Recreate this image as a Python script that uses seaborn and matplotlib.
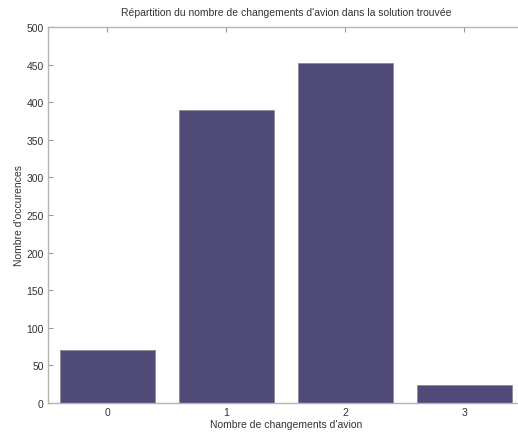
import matplotlib
matplotlib.use("Agg")
import matplotlib.pyplot as plt
import seaborn as sns
import pandas as pd

categories = ["0", "1", "2", "3"]
counts = [71, 390, 452, 24]
yticks = [0, 50, 100, 150, 200, 250, 300, 350, 400, 450, 500]

sns.set_style("white")
plt.rcParams['font.family'] = ['Liberation Sans', 'DejaVu Sans']

df = pd.DataFrame({"changements": categories, "occurences": counts})

fig = plt.figure(figsize=(5.18, 4.35), dpi=100)
ax = fig.add_axes([48/518, 31/435, 475.6/518, 376/435])

sns.barplot(data=df, x="changements", y="occurences", color="#4f4a78",
            saturation=1, width=0.8, edgecolor="#8a8a9a", linewidth=0.6, ax=ax)

ax.set_xlim(-0.5, 3.5)
ax.set_ylim(0, 500)
ax.set_yticks(yticks)
ax.set_yticklabels([str(v) for v in yticks])

spine_col = "#b4b4b4"
text_col = "#333333"
for side in ["left", "bottom", "top"]:
    ax.spines[side].set_visible(True)
    ax.spines[side].set_color(spine_col)
    ax.spines[side].set_linewidth(1.0)
ax.spines["right"].set_visible(False)

ax.tick_params(axis="both", which="major", direction="in", length=3.5, width=0.8,
               color="#999999", labelsize=7.5, labelcolor=text_col, pad=3)
ax.tick_params(axis="x", top=True, bottom=True)
ax.tick_params(axis="y", left=True, right=False)

ax.set_title("Répartition du nombre de changements d'avion dans la solution trouvée",
             fontsize=7.5, color=text_col, pad=9)
ax.set_xlabel("Nombre de changements d'avion", fontsize=7.5, color=text_col, labelpad=1)
ax.set_ylabel("Nombre d'occurences", fontsize=7.5, color=text_col, labelpad=2)

fig.savefig("out.png", dpi=100)
